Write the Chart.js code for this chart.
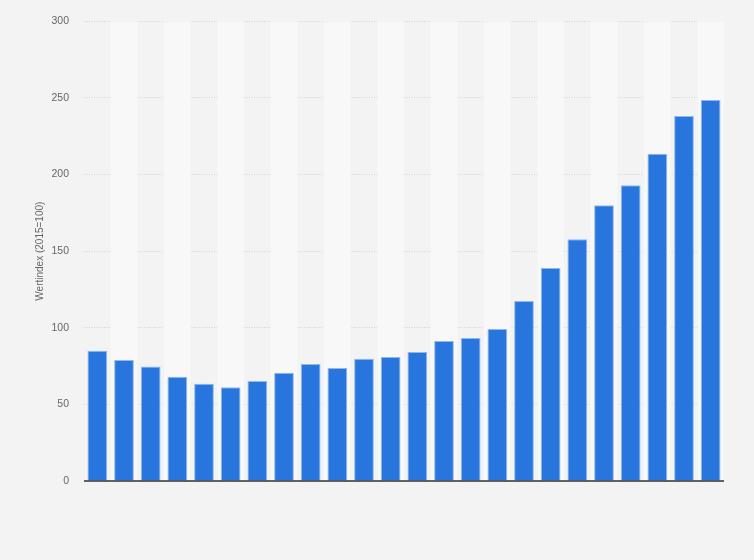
<!DOCTYPE html>
<html>
<head>
<meta charset="utf-8">
<script src="https://cdn.jsdelivr.net/npm/chart.js@4/dist/chart.umd.min.js"></script>
<style>
    html, body { margin: 0; padding: 0; background: #f3f3f3; }
    #wrap { width: 754px; height: 560px; position: relative; }
</style>
</head>
<body>
<div id="wrap"><canvas id="chart"></canvas></div>
<script>
// Kategorien (keine Beschriftung sichtbar im Original)
const categories = ['1', '2', '3', '4', '5', '6', '7', '8', '9', '10', '11', '12',
    '13', '14', '15', '16', '17', '18', '19', '20', '21', '22', '23', '24'];

// Wertindex (2015=100)
const wertindex = [85, 79, 74.7, 68, 63.4, 61.2, 65.3, 70.6, 76.4, 73.8, 79.7, 81,
    84.2, 91.4, 93.4, 99.2, 117.5, 139, 157.8, 180, 193, 213.5, 238.2, 248.7];

const yTicks = [0, 50, 100, 150, 200, 250, 300];
const yTitle = 'Wertindex (2015=100)';

// Streifen im Hintergrund (jede zweite Kategorie heller)
const stripes = {
    id: 'stripes',
    beforeDatasetsDraw(chart) {
        const { ctx, chartArea, scales } = chart;
        const x = scales.x;
        const step = x.width / categories.length;
        ctx.save();
        ctx.fillStyle = '#f8f8f8';
        categories.forEach((c, i) => {
            if (i % 2 === 1) {
                const cx = x.getPixelForValue(i);
                ctx.fillRect(cx - step / 2, chartArea.top, step, chartArea.bottom - chartArea.top);
            }
        });
        ctx.restore();
    },
    // Nulllinie über den Balken
    afterDatasetsDraw(chart) {
        const { ctx, scales } = chart;
        const y0 = scales.y.getPixelForValue(0);
        ctx.save();
        ctx.strokeStyle = '#333333';
        ctx.lineWidth = 1.5;
        ctx.beginPath();
        ctx.moveTo(scales.x.left, y0);
        ctx.lineTo(scales.x.right, y0);
        ctx.stroke();
        ctx.restore();
    }
};

new Chart(document.getElementById('chart'), {
    type: 'bar',
    data: {
        labels: categories,
        datasets: [{
            data: wertindex,
            backgroundColor: '#2876dd',
            borderColor: '#8fb8ee',
            borderWidth: 1,
            categoryPercentage: 0.74,
            barPercentage: 1
        }]
    },
    options: {
        responsive: true,
        maintainAspectRatio: false,
        animation: false,
        layout: { padding: { top: 20, right: 30, bottom: 79, left: 0 } },
        plugins: {
            legend: { display: false },
            tooltip: { enabled: false }
        },
        scales: {
            x: {
                ticks: { display: false },
                grid: { display: false, drawTicks: false },
                border: { display: false }
            },
            y: {
                min: 0,
                max: 300,
                afterBuildTicks: (scale) => { scale.ticks = yTicks.map(v => ({ value: v })); },
                afterFit: (scale) => { scale.width = 84; },
                ticks: {
                    color: '#666666',
                    font: { family: 'Arial, "Liberation Sans", sans-serif', size: 10.5 },
                    padding: 15
                },
                grid: {
                    color: '#d2d2d2',
                    drawTicks: false,
                    lineWidth: 1
                },
                border: { display: false, dash: [1, 1.5] },
                title: {
                    display: true,
                    text: yTitle,
                    color: '#666666',
                    font: { family: 'Arial, "Liberation Sans", sans-serif', size: 10 },
                    padding: { top: 34, bottom: 0 }
                }
            }
        }
    },
    plugins: [stripes]
});
</script>
</body>
</html>
